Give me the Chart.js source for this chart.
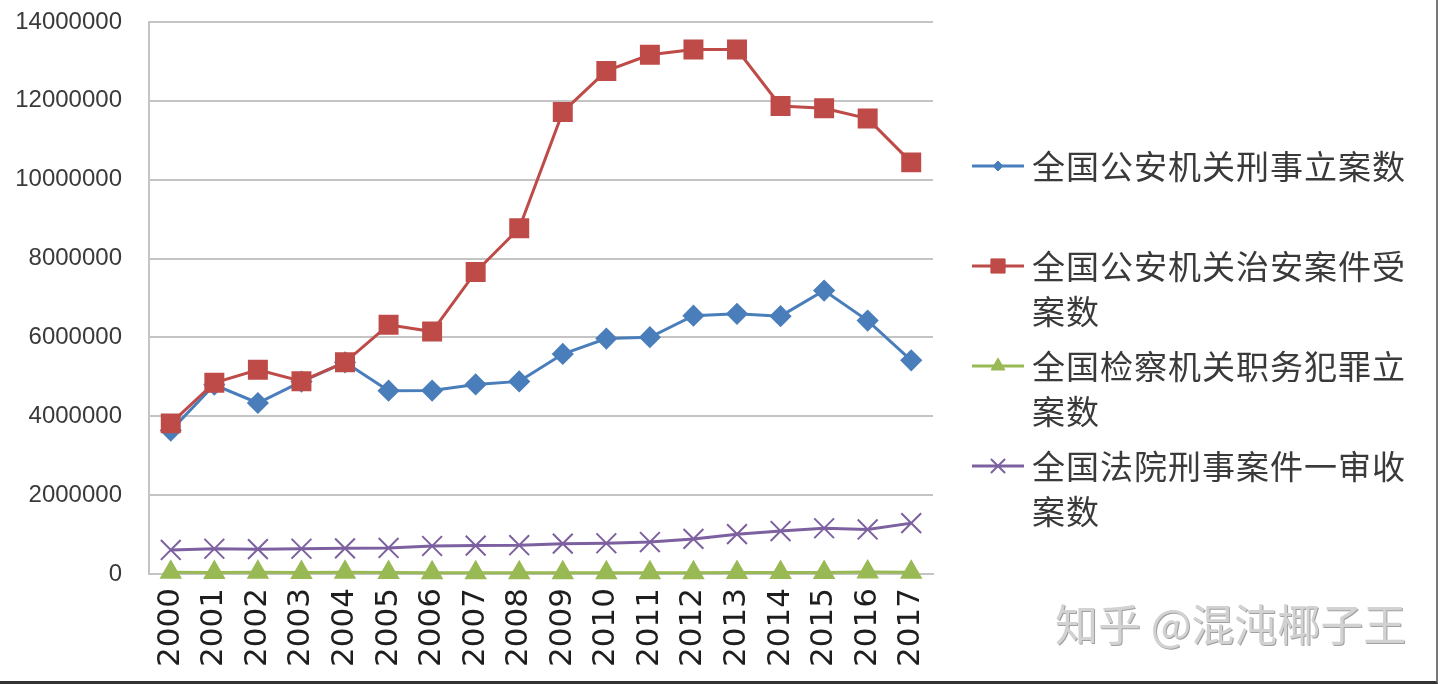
<!DOCTYPE html>
<html>
<head>
<meta charset="utf-8">
<script src="https://cdn.jsdelivr.net/npm/chart.js@4.4.0/dist/chart.umd.min.js"></script>
<style>
html, body { margin: 0; padding: 0; background: #fff; }
#wrap { width: 1436px; height: 681px; border-right: 2px solid #777; border-bottom: 3px solid #333; }
</style>
</head>
<body>
<div id="wrap"><canvas id="myChart" width="1436" height="681"></canvas></div>
<script>
// données
var annees = ['2000','2001','2002','2003','2004','2005','2006','2007','2008','2009','2010','2011','2012','2013','2014','2015','2016','2017'];
var noms = ['全国公安机关刑事立案数', '全国公安机关治安案件受案数', '全国检察机关职务犯罪立案数', '全国法院刑事案件一审收案数'];
var xingshi = [3637000, 4800000, 4337000, 4880000, 5370000, 4648000, 4653000, 4808000, 4885000, 5580000, 5970000, 6005000, 6551000, 6598000, 6540000, 7190000, 6428000, 5420000];
var zhian = [3820000, 4850000, 5180000, 4890000, 5370000, 6320000, 6150000, 7660000, 8770000, 11720000, 12760000, 13170000, 13300000, 13300000, 11870000, 11810000, 11550000, 10440000];
var zhiwu = [45000, 36000, 43000, 40000, 44000, 39000, 34000, 34000, 34000, 32000, 33000, 33000, 34000, 38000, 41000, 41000, 48000, 46000];
var yishen = [610000, 640000, 630000, 640000, 650000, 660000, 710000, 720000, 730000, 770000, 780000, 810000, 890000, 1010000, 1090000, 1160000, 1130000, 1290000];
var yTicks = [0, 2000000, 4000000, 6000000, 8000000, 10000000, 12000000, 14000000];

var couleurs = ['#4A7EBB', '#BE4B48', '#98B954', '#7D60A0'];
var legendeRayons = [5, 10, 8, 10];

// legende a droite + filigrane
const legendeCote = {
    id: 'legendeCote',
    afterDraw(chart) {
        const ctx = chart.ctx;
        ctx.save();
        chart.data.datasets.forEach((ds, i) => {
            var y = 166 + i * 100;
            ctx.strokeStyle = ds.borderColor;
            ctx.fillStyle = ds.borderColor;
            ctx.lineWidth = 3;
            ctx.beginPath();
            ctx.moveTo(972, y);
            ctx.lineTo(1024, y);
            ctx.stroke();
            ctx.lineWidth = ds.pointBorderWidth || 1;
            Chart.helpers.drawPoint(ctx, {pointStyle: ds.pointStyle, radius: legendeRayons[i], rotation: 0, borderWidth: ctx.lineWidth}, 998, y);
            ctx.font = '33px "Noto Sans CJK SC"';
            ctx.letterSpacing = '1px';
            ctx.textBaseline = 'middle';
            ctx.fillStyle = '#3a3a3a';
            var txt = ds.label;
            for (var k = 0; k * 11 < txt.length; k++) {
                ctx.fillText(txt.substr(k * 11, 11), 1032, y + k * 45);
            }
        });
        // filigrane
        ctx.font = '43px "Noto Sans CJK SC"';
        ctx.letterSpacing = '0px';
        ctx.textBaseline = 'middle';
        ctx.fillStyle = '#a0a0a0';
        ctx.fillText('知乎 @混沌椰子王', 1056, 626);
        ctx.fillStyle = '#d2d2d2';
        ctx.fillText('知乎 @混沌椰子王', 1055, 625);
        ctx.restore();
    }
};

const ctx = document.getElementById('myChart');

new Chart(ctx, {
    type: 'line',
    data: {
        labels: annees,
        datasets: [{
            label: noms[0],
            data: xingshi,
            borderColor: couleurs[0],
            backgroundColor: couleurs[0],
            pointStyle: 'rectRot',
            pointRadius: 9,
            borderWidth: 3,
            order: 4
        }, {
            label: noms[1],
            data: zhian,
            borderColor: couleurs[1],
            backgroundColor: couleurs[1],
            pointStyle: 'rect',
            pointRadius: 12,
            borderWidth: 3,
            order: 3
        }, {
            label: noms[2],
            data: zhiwu,
            borderColor: couleurs[2],
            backgroundColor: couleurs[2],
            pointStyle: 'triangle',
            pointRadius: 10,
            borderWidth: 3,
            order: 2
        }, {
            label: noms[3],
            data: yishen,
            borderColor: couleurs[3],
            backgroundColor: couleurs[3],
            pointStyle: 'crossRot',
            pointRadius: 14,
            pointBorderWidth: 2,
            borderWidth: 3,
            order: 1
        }]
    },
    options: {
        responsive: false,
        animation: false,
        layout: { padding: { left: 0, top: 22, right: 503, bottom: 0 } },
        elements: { line: { tension: 0 } },
        datasets: { line: { clip: false } },
        plugins: {
            legend: { display: false },
            tooltip: { enabled: false }
        },
        scales: {
            x: {
                offset: true,
                grid: { display: false, drawTicks: false },
                border: { display: true, color: '#c4c4c4', width: 2 },
                ticks: {
                    autoSkip: false,
                    minRotation: 90,
                    maxRotation: 90,
                    padding: 14,
                    color: '#1e1e1e',
                    font: { family: 'DejaVu Sans', size: 31 }
                },
                afterFit: function(scale) { scale.height = 107; }
            },
            y: {
                min: 0,
                max: 14000000,
                afterBuildTicks: function(scale) { scale.ticks = yTicks.map(v => ({value: v})); },
                grid: { color: '#c4c4c4', lineWidth: 2, drawTicks: false },
                border: { display: true, color: '#c4c4c4', width: 2 },
                ticks: {
                    padding: 27,
                    color: '#3a3a3a',
                    font: { family: 'Liberation Sans', size: 24 },
                    callback: function(v) { return String(v); }
                },
                afterFit: function(scale) {
                    scale.width = 149;
                    scale.paddingTop = 0;
                    scale.paddingBottom = 0;
                }
            }
        }
    },
    plugins: [legendeCote]
});
</script>
</body>
</html>
